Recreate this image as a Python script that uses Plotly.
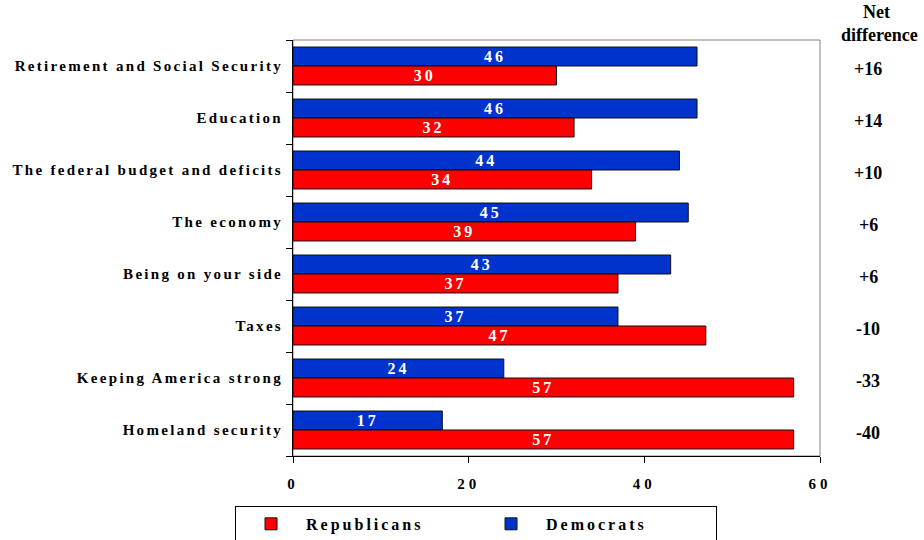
import plotly.graph_objects as go

categories = [
    "Retirement and Social Security",
    "Education",
    "The federal budget and deficits",
    "The economy",
    "Being on your side",
    "Taxes",
    "Keeping America strong",
    "Homeland security",
]
democrats = [46, 46, 44, 45, 43, 37, 24, 17]
republicans = [30, 32, 34, 39, 37, 47, 57, 57]
x_ticks = [0, 20, 40, 60]

FONT = "Liberation Serif"
BLUE = "#0033CC"
RED = "#FF0000"


def spaced(s, px=2.5):
    return f'<span style="letter-spacing:{px}px">{s}</span>'


net = [d - r for d, r in zip(democrats, republicans)]

fig = go.Figure()
fig.add_trace(go.Bar(
    y=categories, x=democrats, orientation="h", name=spaced("<b>Democrats</b>", 3),
    marker=dict(color=BLUE, line=dict(color="#111111", width=1)),
    text=democrats, texttemplate=spaced("<b>%{x}</b>", 3), textposition="inside",
    insidetextanchor="middle", constraintext="none",
    textfont=dict(family=FONT, size=16, color="white"),
))
fig.add_trace(go.Bar(
    y=categories, x=republicans, orientation="h", name=spaced("<b>Republicans</b>", 3),
    marker=dict(color=RED, line=dict(color="#111111", width=1)),
    text=republicans, texttemplate=spaced("<b>%{x}</b>", 3), textposition="inside",
    insidetextanchor="middle", constraintext="none",
    textfont=dict(family=FONT, size=16, color="white"),
))

annotations = [
    dict(x=1.108, y=1.067, xref="paper", yref="paper", xanchor="center", yanchor="middle",
         text="<b>Net</b>", showarrow=False, font=dict(family=FONT, size=18, color="black")),
    dict(x=1.112, y=1.012, xref="paper", yref="paper", xanchor="center", yanchor="middle",
         text="<b>difference</b>", showarrow=False,
         font=dict(family=FONT, size=18, color="black")),
]
for c, n in zip(categories, net):
    annotations.append(dict(
        x=1.092, y=c, xref="paper", yref="y", yshift=-3, xanchor="center", yanchor="middle",
        text=f"<b>{n:+d}</b>", showarrow=False,
        font=dict(family=FONT, size=18, color="black"),
    ))

fig.update_layout(
    width=924, height=540,
    font=dict(family=FONT),
    margin=dict(l=293, r=104, t=40, b=84, autoexpand=False),
    paper_bgcolor="white", plot_bgcolor="white",
    barmode="group", bargap=0.27, bargroupgap=0,
    showlegend=True,
    legend=dict(
        orientation="h", x=-0.11, xanchor="left", y=-0.12, yanchor="top",
        traceorder="reversed", itemwidth=60, entrywidth=165, entrywidthmode="pixels",
        bordercolor="black", borderwidth=1,
        font=dict(family=FONT, size=16, color="black"),
    ),
    xaxis=dict(
        range=[0, 60], tickvals=x_ticks,
        ticktext=[spaced(f"<b>{v}</b>", 4) for v in x_ticks],
        showgrid=False, zeroline=False, showline=True, linecolor="black", linewidth=1,
        ticks="outside", ticklen=6, tickcolor="black", ticklabelstandoff=8,
        tickfont=dict(family=FONT, size=15, color="black"),
        fixedrange=True,
    ),
    yaxis=dict(
        autorange="reversed", tickmode="array", tickvals=categories,
        ticktext=[spaced(f"<b>{c}</b>", 2.3) for c in categories],
        tickson="boundaries", ticks="outside", ticklen=6, tickcolor="black",
        showline=True, linecolor="black", linewidth=1, showgrid=False,
        ticklabelstandoff=6,
        tickfont=dict(family=FONT, size=15, color="black"),
        fixedrange=True,
    ),
    shapes=[dict(type="rect", xref="paper", yref="paper", x0=0, x1=1, y0=0, y1=1,
                 line=dict(color="#808080", width=1), layer="below")],
    annotations=annotations,
)

fig.write_html("out.html")
